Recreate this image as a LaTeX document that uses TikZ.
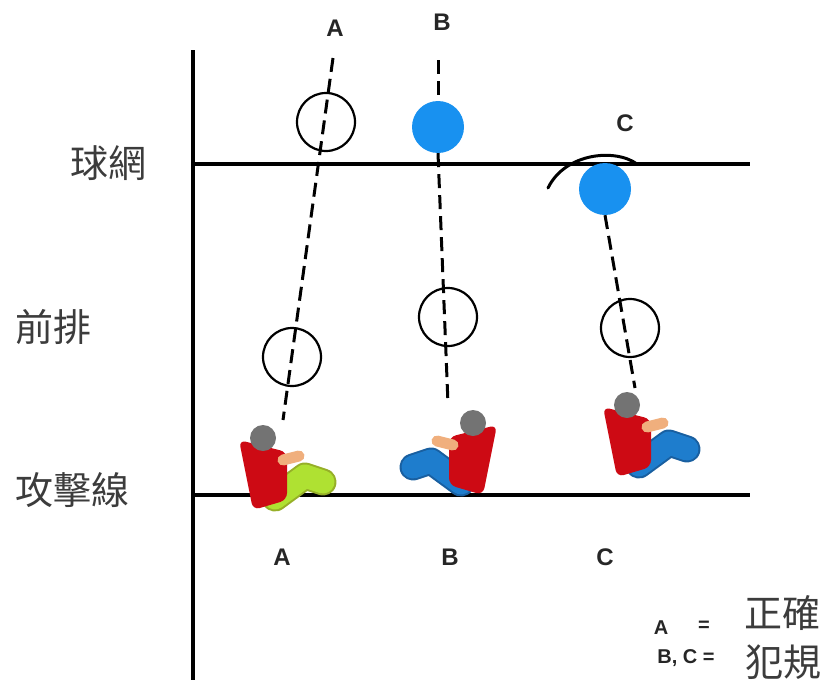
\documentclass[tikz,border=0pt]{standalone}
\usepackage{fontspec}
\setsansfont{Liberation Sans}
\newfontfamily\cjk{Noto Sans CJK TC}
\definecolor{ballblue}{RGB}{24,145,240}
\definecolor{shirt}{RGB}{205,10,20}
\definecolor{skin}{RGB}{240,175,125}
\definecolor{hair}{RGB}{115,115,115}
\definecolor{legsA}{RGB}{175,225,50}
\definecolor{legsA2}{RGB}{150,175,40}
\definecolor{legsB}{RGB}{30,125,205}
\definecolor{legsB2}{RGB}{25,95,160}
\definecolor{textgray}{RGB}{60,60,60}
\newcommand{\ZH}[1]{{\cjk\color{textgray}#1}}
\tikzset{
  pics/player/.style 2 args={code={
    \draw[line width=27pt,line cap=round,line join=round,#2] (12,60) -- (42,38) -- (60,44);
    \draw[line width=23pt,line cap=round,line join=round,#1] (12,60) -- (42,38) -- (60,44);
    \fill[shirt,rounded corners=7pt] (-24,2) -- (24,14) -- (24,62) -- (-10,72) -- cycle;
    \draw[line width=11pt,line cap=round,skin] (20,22) -- (36,18);
    \fill[hair] (0,0) circle (13);
  }}
}
\begin{document}
\begin{tikzpicture}[x=1pt,y=-1pt,
    court/.style={line width=3.5pt},
    ring/.style={circle,draw,line width=2.2pt,minimum size=58pt,inner sep=0pt},
    ball/.style={circle,fill=ballblue,minimum size=52pt,inner sep=0pt},
    path/.style={dash pattern=on 14pt off 7pt,line width=3pt},
    letter/.style={font=\sffamily\bfseries\fontsize{24}{24}\selectfont,text=black!85},
    key/.style={font=\sffamily\bfseries\fontsize{20}{20}\selectfont,text=black!85}]
    \useasboundingbox (0,0) rectangle (826,688);
    % court lines
    \draw[line width=4pt] (193,50) -- (193,680);
    \draw[court] (193,164) -- (750,164);
    \draw[court] (193,495) -- (750,495);
    \node (net) at (108,163) [font=\fontsize{38}{38}\selectfont] {\ZH{球網}};
    \node (front) at (53,327) [font=\fontsize{38}{38}\selectfont] {\ZH{前排}};
    \node (attack) at (72,490) [font=\fontsize{38}{38}\selectfont] {\ZH{攻擊線}};
    % labels
    \node (labA) at (335,28) [letter] {A};
    \node (labB) at (442,22) [letter] {B};
    \node (labC) at (625,123) [letter] {C};
    \node (botA) at (282,557) [letter] {A};
    \node (botB) at (450,557) [letter] {B};
    \node (botC) at (605,557) [letter] {C};
    % balls and rings
    \node (ringA1) at (326,122) [ring] {};
    \node (ringA2) at (292,357) [ring] {};
    \node (ringB) at (448,317) [ring] {};
    \node (ringC) at (630,328) [ring] {};
    \node (ballB) at (438,127) [ball] {};
    \node (ballC) at (605,189) [ball] {};
    \coordinate (topA) at (333,58);
    \coordinate (endA) at (283,420);
    \coordinate (topB) at (438,60);
    \coordinate (endB) at (448,404);
    \coordinate (endC) at (635,388);
    \draw[path] (topA) -- (endA);
    \draw[path] (topB) -- (ballB.north);
    \draw[path] (ballB.south) -- (endB);
    \draw[path] (ballC.south) -- (endC);
    \draw[line width=3pt,line cap=round] (548,188) .. controls (565,153) and (615,148) .. (637,164);
    % players
    \pic at (263,438) {player={legsA}{legsA2}};
    \pic[xscale=-1] at (473,423) {player={legsB}{legsB2}};
    \pic at (627,405) {player={legsB}{legsB2}};
    % legend
    \node (keyA) at (661,628) [key] {A};
    \node (keyEq) at (704,626) [key] {=};
    \node (keyBC) at (686,658) [key] {B, C =};
    \node (right) at (782,613) [font=\fontsize{38}{38}\selectfont] {\ZH{正確}};
    \node (foul) at (783,662) [font=\fontsize{38}{38}\selectfont] {\ZH{犯規}};
\end{tikzpicture}
\end{document}
